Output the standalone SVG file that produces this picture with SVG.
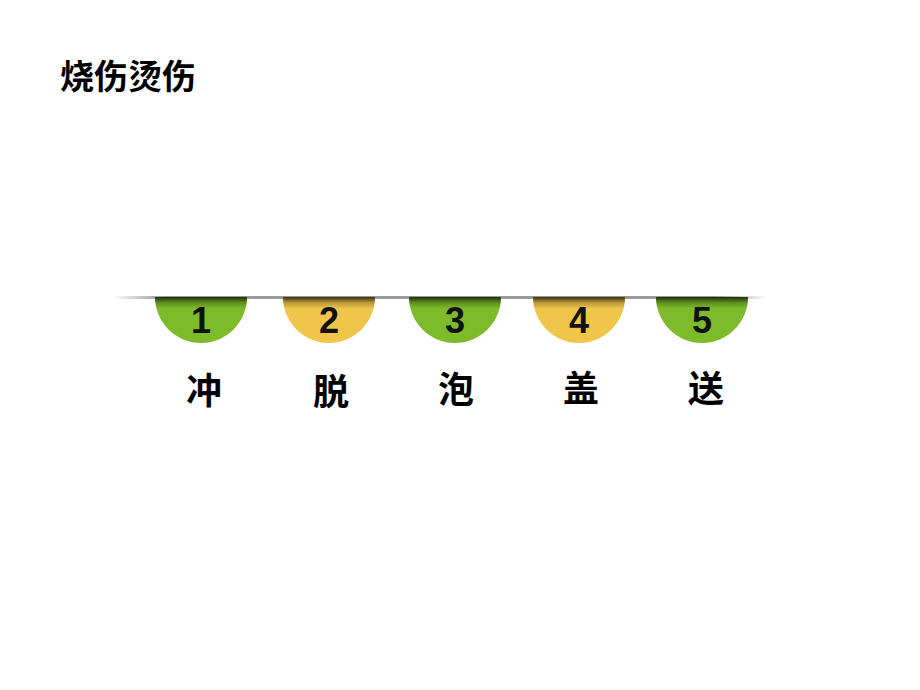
<svg xmlns="http://www.w3.org/2000/svg" width="920" height="690" viewBox="0 0 920 690">
<defs>
<linearGradient id="bar" x1="0" y1="0" x2="1" y2="0">
<stop offset="0" stop-color="#ffffff"/>
<stop offset="0.08" stop-color="#9a9a9a"/>
<stop offset="0.92" stop-color="#9a9a9a"/>
<stop offset="1" stop-color="#ffffff"/>
</linearGradient>
<linearGradient id="shade" x1="0" y1="0" x2="0" y2="1">
<stop offset="0" stop-color="#000" stop-opacity="0.75"/>
<stop offset="0.12" stop-color="#000" stop-opacity="0.25"/>
<stop offset="0.25" stop-color="#000" stop-opacity="0"/>
</linearGradient>
<style>
.g{fill:#7dbb2a}
.y{fill:#f0c64a}
.num{font-family:"Liberation Sans","Noto Sans",sans-serif;font-weight:bold;font-size:36px;fill:#111;text-anchor:middle}
.lab{font-family:"Noto Sans CJK SC",sans-serif;font-weight:bold;font-size:36px;fill:#000;text-anchor:middle}
</style>
</defs>
<rect width="920" height="690" fill="#fff"/>
<text x="60" y="89" font-family="Noto Sans CJK SC, sans-serif" font-weight="bold" font-size="34" fill="#000">烧伤烫伤</text>
<g id="bar-line">
<rect x="112" y="296" width="656" height="3" fill="url(#bar)"/>
</g>
<g id="step1">
<path class="g" d="M155,297 A46,46 0 0 0 247,297 Z"/>
<path d="M155,297 A46,46 0 0 0 247,297 Z" fill="url(#shade)"/>
<text class="num" x="201" y="333">1</text>
<text class="lab" x="204" y="404">冲</text>
</g>
<g id="step2">
<path class="y" d="M283,297 A46,46 0 0 0 375,297 Z"/>
<path d="M283,297 A46,46 0 0 0 375,297 Z" fill="url(#shade)"/>
<text class="num" x="329" y="333">2</text>
<text class="lab" x="331" y="405">脱</text>
</g>
<g id="step3">
<path class="g" d="M409,297 A46,46 0 0 0 501,297 Z"/>
<path d="M409,297 A46,46 0 0 0 501,297 Z" fill="url(#shade)"/>
<text class="num" x="455" y="333">3</text>
<text class="lab" x="456" y="403">泡</text>
</g>
<g id="step4">
<path class="y" d="M533,297 A46,46 0 0 0 625,297 Z"/>
<path d="M533,297 A46,46 0 0 0 625,297 Z" fill="url(#shade)"/>
<text class="num" x="579" y="333">4</text>
<text class="lab" x="581" y="402">盖</text>
</g>
<g id="step5">
<path class="g" d="M656,297 A46,46 0 0 0 748,297 Z"/>
<path d="M656,297 A46,46 0 0 0 748,297 Z" fill="url(#shade)"/>
<text class="num" x="702" y="333">5</text>
<text class="lab" x="706" y="402">送</text>
</g>
</svg>
